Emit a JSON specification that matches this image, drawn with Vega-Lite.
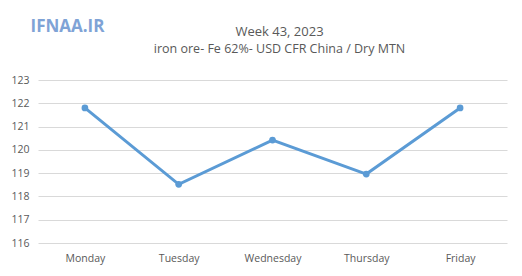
{
  "$schema": "https://vega.github.io/schema/vega-lite/v6.json",
  "width": 469,
  "height": 163,
  "autosize": {"type": "none"},
  "padding": {"left": 38, "top": 80, "right": 15, "bottom": 33},
  "background": "white",
  "title": {
    "text": "Week 43, 2023",
    "subtitle": "iron ore- Fe 62%- USD CFR China / Dry MTN",
    "anchor": "middle",
    "dx": 7,
    "offset": -38,
    "font": "Open Sans",
    "fontSize": 13,
    "fontWeight": "normal",
    "color": "#595959",
    "subtitleFont": "Open Sans",
    "subtitleFontSize": 12.5,
    "subtitleColor": "#595959",
    "subtitlePadding": 4
  },
  "config": {
    "view": {"stroke": null},
    "font": "Open Sans"
  },
  "data": {
    "values": [
      {"day": "Monday", "price": 121.8},
      {"day": "Tuesday", "price": 118.52},
      {"day": "Wednesday", "price": 120.42},
      {"day": "Thursday", "price": 118.96},
      {"day": "Friday", "price": 121.8}
    ]
  },
  "encoding": {
    "x": {
      "field": "day",
      "type": "nominal",
      "sort": null,
      "scale": {"paddingInner": 0, "paddingOuter": 0},
      "axis": {
        "title": null,
        "labelAngle": 0,
        "labelFont": "Open Sans",
        "labelFontSize": 10.5,
        "labelColor": "#595959",
        "labelPadding": 10,
        "ticks": false,
        "domain": false,
        "grid": false
      }
    },
    "y": {
      "field": "price",
      "type": "quantitative",
      "scale": {"domain": [116, 123], "nice": false, "zero": false},
      "axis": {
        "title": "IFNAA.IR",
        "titleAngle": 0,
        "titleX": 29,
        "titleY": -49,
        "titleAlign": "center",
        "titleBaseline": "alphabetic",
        "titleFont": "Open Sans",
        "titleFontSize": 17,
        "titleFontWeight": "bold",
        "titleColor": "#7fa3d6",
        "values": [116, 117, 118, 119, 120, 121, 122, 123],
        "labelFont": "Open Sans",
        "labelFontSize": 10.5,
        "labelColor": "#595959",
        "labelPadding": 9,
        "ticks": false,
        "domain": false,
        "grid": true,
        "gridColor": "#d9d9d9",
        "gridWidth": 1
      }
    }
  },
  "layer": [
    {"mark": {"type": "line", "color": "#5b9bd5", "strokeWidth": 3}},
    {"mark": {"type": "point", "filled": true, "color": "#5b9bd5", "size": 45, "opacity": 1}}
  ]
}
